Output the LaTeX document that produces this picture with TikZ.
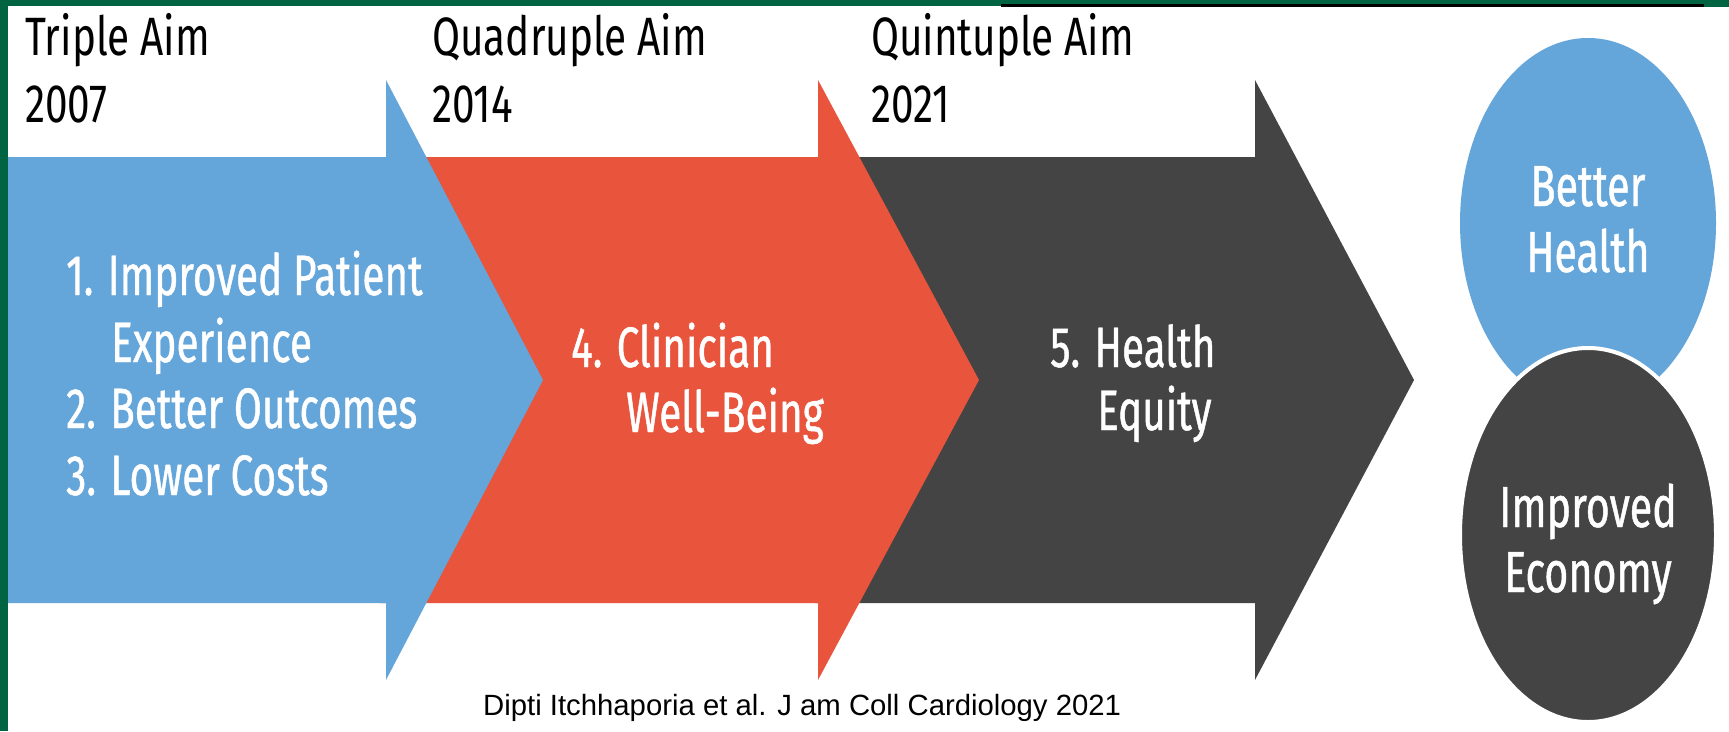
\documentclass[tikz,border=0pt]{standalone}
\usepackage{fontspec}
\setmainfont{Fira Sans}
\newfontfamily\headfont[FakeStretch=0.75]{Fira Sans}
\IfFontExistsTF{FiraSans-SemiBold.otf}
  {\newfontfamily\labelfont[FakeStretch=0.69]{FiraSans-SemiBold.otf}}
  {\newfontfamily\labelfont[FakeStretch=0.71,FakeBold=0.8]{Fira Sans}}
\newfontfamily\citefont{Liberation Sans}

\definecolor{frame}{RGB}{0,100,66}
\definecolor{aimblue}{RGB}{100,165,218}
\definecolor{aimred}{RGB}{232,84,60}
\definecolor{aimdark}{RGB}{68,68,68}

\begin{document}
\begin{tikzpicture}[x=1pt,y=-1pt,
  heading/.style={anchor=base west,inner sep=0pt,text=black,
    font=\headfont\fontsize{54}{54}\selectfont},
  aimtext/.style={anchor=base west,inner sep=0pt,text=white,
    font=\labelfont\fontsize{57}{57}\selectfont},
  goaltext/.style={anchor=base,inner sep=0pt,text=white,
    font=\labelfont\fontsize{58}{58}\selectfont},
  cite/.style={anchor=base west,inner sep=0pt,text=black,
    font=\citefont\fontsize{29.3}{29.3}\selectfont}]

\useasboundingbox (0,0) rectangle (1729,731);
\fill[white] (0,0) rectangle (1729,731);

% slide frame
\fill[frame] (0,0) rectangle (8,731);
\fill[frame] (0,0) rectangle (1729,6);
\fill[frame] (1704,0) rectangle (1729,7);
\fill[black] (1001,4) rectangle (1704,7);

% arrows, back to front
\fill[aimdark] (815,157) -- (1255,157) -- (1255,80) -- (1414,380)
  -- (1255,680) -- (1255,603) -- (815,603) -- cycle;
\fill[aimred] (380,157) -- (818,157) -- (818,80) -- (979,380)
  -- (818,680) -- (818,603) -- (380,603) -- cycle;
\fill[aimblue] (8,157) -- (386,157) -- (386,80) -- (543,380)
  -- (386,680) -- (386,603) -- (8,603) -- cycle;

% outcome circles
\fill[aimblue] (1588,223) ellipse [x radius=128, y radius=185];
\filldraw[fill=aimdark,draw=white,line width=4pt] (1588,535) ellipse [x radius=128, y radius=187];

% headings
\node[heading] (tripleA) at (25,55) {Triple Aim};
\node[heading] (tripleB) at (25,122) {2007};
\node[heading] (quadA) at (432,55) {Quadruple Aim};
\node[heading] (quadB) at (432,122) {2014};
\node[heading] (quinA) at (871,55) {Quintuple Aim};
\node[heading] (quinB) at (871,122) {2021};

% aims
\node[aimtext] (aim1) at (66,295) {1. Improved Patient};
\node[aimtext] (aim1b) at (111,362) {Experience};
\node[aimtext] (aim2) at (66,428) {2. Better Outcomes};
\node[aimtext] (aim3) at (66,495) {3. Lower Costs};
\node[aimtext] (aim4) at (571,367) {4. Clinician};
\node[aimtext] (aim4b) at (626,432) {Well-Being};
\node[aimtext] (aim5) at (1050,367) {5. Health};
\node[aimtext] (aim5b) at (1097,430) {Equity};

% goals
\node[goaltext] (healthA) at (1588,206) {Better};
\node[goaltext] (healthB) at (1588,272) {Health};
\node[goaltext] (econA) at (1588,527) {Improved};
\node[goaltext] (econB) at (1588,592) {Economy};

% reference
\node[cite] (ref) at (483,715) {Dipti Itchhaporia et al. J am Coll Cardiology 2021};
\end{tikzpicture}
\end{document}
